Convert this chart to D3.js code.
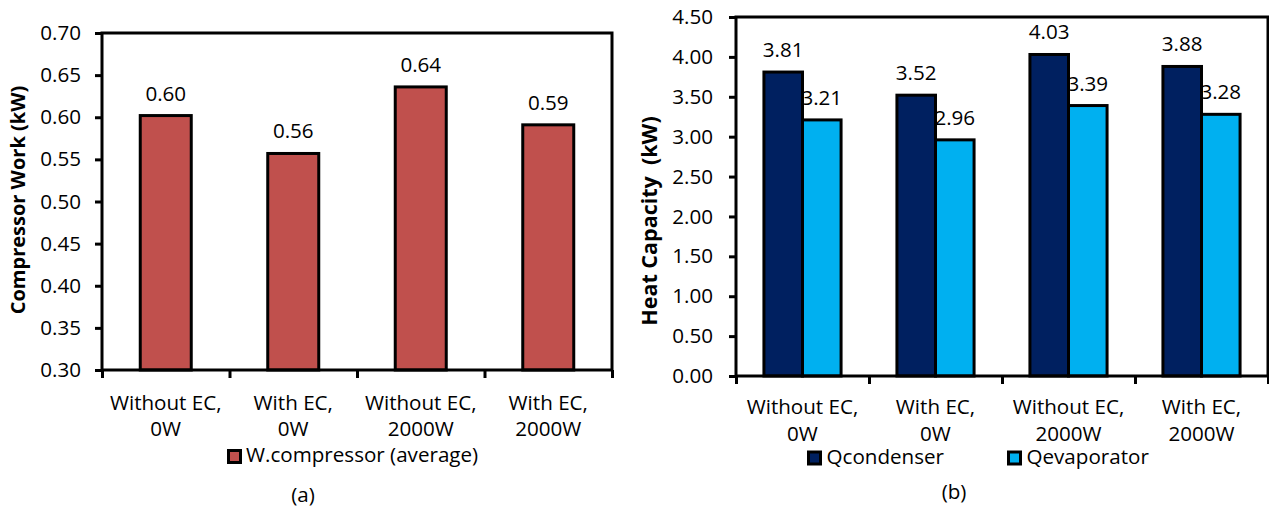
<!DOCTYPE html>
<html>
<head>
<meta charset="utf-8">
<script src="https://cdn.jsdelivr.net/npm/d3@7"></script>
<style>
  body { margin: 0; background: #fff; }
  svg { display: block; }
  text { font-family: "Open Sans", "Noto Sans", sans-serif; fill: #000; }
</style>
</head>
<body>
<svg id="chart" width="1269" height="510"></svg>
<script>
// ---- data ----
const categories = ["Without EC, 0W", "With EC, 0W", "Without EC, 2000W", "With EC, 2000W"];
const categoryLines = [["Without EC,", "0W"], ["With EC,", "0W"], ["Without EC,", "2000W"], ["With EC,", "2000W"]];
const compressorWork = [0.602, 0.557, 0.636, 0.591];
const qCondenser = [3.81, 3.52, 4.03, 3.88];
const qEvaporator = [3.21, 2.96, 3.39, 3.28];
const workTicks = [0.30, 0.35, 0.40, 0.45, 0.50, 0.55, 0.60, 0.65, 0.70];
const heatTicks = [0.00, 0.50, 1.00, 1.50, 2.00, 2.50, 3.00, 3.50, 4.00, 4.50];
const heatSeries = ["Qcondenser", "Qevaporator"];
const heatColors = ["#002060", "#00B0F0"];
const workColor = "#C0504D";

const svg = d3.select("#chart");
const fmt = d3.format(".2f");
const FS = 20.6;

function panel(opts) {
  const { left, right, top, bottom } = opts;
  const g = svg.append("g");
  const y = d3.scaleLinear().domain(opts.yDomain).range([bottom, top]);
  const x = d3.scaleBand().domain(categories).range([left, right]).padding(0);
  const xEdge = d3.scaleLinear().domain([0, categories.length]).range([left, right]);

  // y axis ticks + labels
  const ya = g.append("g").attr("transform", `translate(${left},0)`)
    .call(d3.axisLeft(y).tickValues(opts.yTicks).tickFormat(fmt)
      .tickSize(7).tickSizeOuter(0).tickPadding(opts.yPad));
  ya.select(".domain").remove();
  ya.selectAll(".tick line").attr("stroke", "#000").attr("stroke-width", 3);
  ya.selectAll(".tick text").attr("font-size", FS).attr("font-family", "Open Sans").attr("fill", "#000");

  // x axis ticks at category boundaries
  const xa = g.append("g").attr("transform", `translate(0,${bottom})`)
    .call(d3.axisBottom(xEdge).tickValues(d3.range(categories.length + 1))
      .tickFormat("").tickSize(8).tickSizeOuter(0));
  xa.select(".domain").remove();
  xa.selectAll(".tick line").attr("stroke", "#000").attr("stroke-width", 3);

  // category labels
  categories.forEach((c, i) => {
    const cx = x(c) + x.bandwidth() / 2;
    const t = g.append("text").attr("text-anchor", "middle").attr("font-size", FS);
    t.append("tspan").attr("x", cx).attr("y", bottom + opts.lab1).text(categoryLines[i][0]);
    t.append("tspan").attr("x", cx).attr("y", bottom + opts.lab2).text(categoryLines[i][1]);
  });

  // axis title
  g.append("text")
    .attr("transform", `translate(${opts.titleX},${opts.titleY}) rotate(-90)`)
    .attr("text-anchor", "middle").attr("font-weight", "bold").attr("font-size", opts.titleSize)
    .style("white-space", "pre").text(opts.title);

  return { g, x, y };
}

// ---- panel (a): compressor work ----
const A = panel({
  left: 102, right: 612, top: 33, bottom: 370,
  yDomain: [0.30, 0.70], yTicks: workTicks, yPad: 14,
  lab1: 39.5, lab2: 66, titleX: 25, titleY: 200, titleSize: 20, title: "Compressor Work (kW)"
});
const bwA = A.x.bandwidth() * 0.4;
A.g.selectAll("rect.bar").data(compressorWork).join("rect").attr("class", "bar")
  .attr("x", (d, i) => A.x(categories[i]) + (A.x.bandwidth() - bwA) / 2)
  .attr("width", bwA)
  .attr("y", d => A.y(d)).attr("height", d => A.y(0.30) - A.y(d))
  .attr("fill", workColor).attr("stroke", "#000").attr("stroke-width", 3);
A.g.selectAll("text.val").data(compressorWork).join("text").attr("class", "val")
  .attr("x", (d, i) => A.x(categories[i]) + A.x.bandwidth() / 2)
  .attr("y", d => A.y(d) - 15).attr("text-anchor", "middle").attr("font-size", FS)
  .text(d => fmt(d));
A.g.append("rect").attr("x", 102).attr("y", 33).attr("width", 510).attr("height", 337)
  .attr("fill", "none").attr("stroke", "#000").attr("stroke-width", 3);
// legend (a)
A.g.append("rect").attr("x", 228.5).attr("y", 450.5).attr("width", 12).attr("height", 12)
  .attr("fill", workColor).attr("stroke", "#000").attr("stroke-width", 3);
A.g.append("text").attr("x", 246).attr("y", 462).attr("font-size", FS).text("W.compressor (average)");
A.g.append("text").attr("x", 303).attr("y", 502).attr("text-anchor", "middle").attr("font-size", FS).text("(a)");

// ---- panel (b): heat capacity ----
const B = panel({
  left: 736, right: 1268, top: 17, bottom: 376,
  yDomain: [0, 4.5], yTicks: heatTicks, yPad: 16,
  lab1: 37.5, lab2: 65, titleX: 657, titleY: 221, titleSize: 21.5, title: "Heat Capacity  (kW)"
});
const x1 = d3.scaleBand().domain(heatSeries)
  .range([B.x.bandwidth() * 0.21, B.x.bandwidth() * 0.79]).padding(0);
const heatData = [qCondenser, qEvaporator];
heatSeries.forEach((s, si) => {
  B.g.selectAll(`rect.s${si}`).data(heatData[si]).join("rect").attr("class", `s${si}`)
    .attr("x", (d, i) => B.x(categories[i]) + x1(s))
    .attr("width", x1.bandwidth())
    .attr("y", d => B.y(d)).attr("height", d => B.y(0) - B.y(d))
    .attr("fill", heatColors[si]).attr("stroke", "#000").attr("stroke-width", 3);
  B.g.selectAll(`text.v${si}`).data(heatData[si]).join("text").attr("class", `v${si}`)
    .attr("x", (d, i) => B.x(categories[i]) + x1(s) + x1.bandwidth() / 2)
    .attr("y", d => B.y(d) - 15).attr("text-anchor", "middle").attr("font-size", FS)
    .text(d => fmt(d));
});
B.g.append("rect").attr("x", 736).attr("y", 17).attr("width", 532).attr("height", 359)
  .attr("fill", "none").attr("stroke", "#000").attr("stroke-width", 3);
// legend (b)
const legX = [808.5, 1008.5];
heatSeries.forEach((s, si) => {
  B.g.append("rect").attr("x", legX[si]).attr("y", 452).attr("width", 12).attr("height", 12)
    .attr("fill", heatColors[si]).attr("stroke", "#000").attr("stroke-width", 3);
  B.g.append("text").attr("x", legX[si] + 18).attr("y", 463.5).attr("font-size", FS).text(s);
});
B.g.append("text").attr("x", 954).attr("y", 499).attr("text-anchor", "middle").attr("font-size", FS).text("(b)");
</script>
</body>
</html>
